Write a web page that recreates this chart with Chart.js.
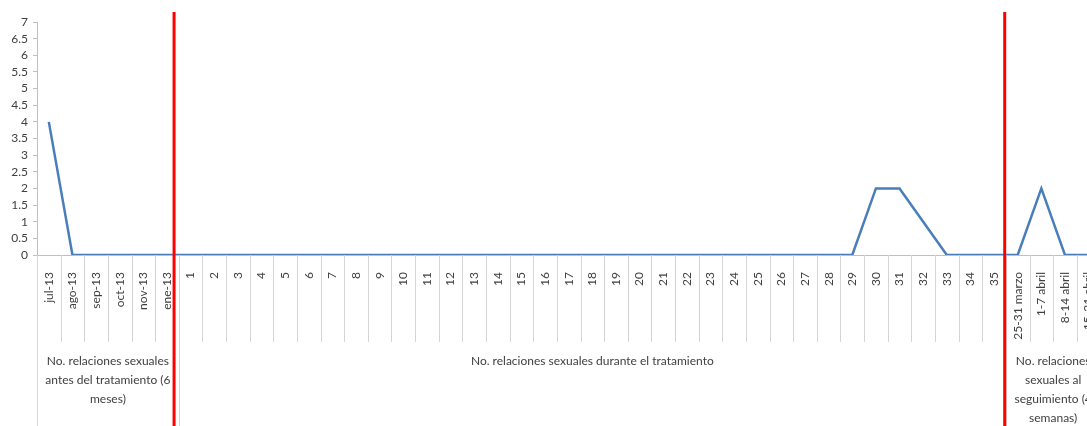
<!DOCTYPE html>
<html>
<head>
<meta charset="utf-8">
<script src="https://cdn.jsdelivr.net/npm/chart.js@4/dist/chart.umd.min.js"></script>
<style>
  html, body { margin: 0; padding: 0; background: #fff; overflow: hidden; width: 1087px; height: 426px; }
  #wrap { width: 1112px; height: 426px; }
</style>
</head>
<body>
<div id="wrap"><canvas id="c" width="1112" height="426"></canvas></div>
<script>
// ---- data ----
const catsBefore = ['jul-13','ago-13','sep-13','oct-13','nov-13','ene-13'];
const catsDuring = ['1','2','3','4','5','6','7','8','9','10','11','12','13','14','15','16','17','18','19','20','21','22','23','24','25','26','27','28','29','30','31','32','33','34','35'];
const catsAfter = ['25-31 marzo','1-7 abril','8-14 abril','15-21 abril'];

const valsBefore = [4,0,0,0,0,0];
const valsDuring = [0,0,0,0,0,0,0,0,0,0,0,0,0,0,0,0,0,0,0,0,0,0,0,0,0,0,0,0,0,2,2,1,0,0,0];
const valsAfter = [0,2,0,0];

const groupLabels = [
  ['No. relaciones sexuales','antes del tratamiento (6','meses)'],
  ['No. relaciones sexuales durante el tratamiento'],
  ['No. relaciones','sexuales al','seguimiento (4','semanas)']
];
const yTicks = [0,0.5,1,1.5,2,2.5,3,3.5,4,4.5,5,5.5,6,6.5,7];

const labels = [...catsBefore, ...catsDuring, ...catsAfter];
const values = [...valsBefore, ...valsDuring, ...valsAfter];
const groupSizes = [catsBefore.length, catsDuring.length, catsAfter.length];
// red divider positions expressed in category-index units
const dividers = [5.3, 40.45];

const FONT = 'Lato, "Open Sans", sans-serif';
const TXT = '#404040';

const decor = {
  id: 'decor',
  afterDraw(chart) {
    const ctx = chart.ctx;
    const xs = chart.scales.x;
    const top = chart.chartArea.top;
    const base = chart.chartArea.bottom;
    const H = chart.height;
    const px = i => xs.getPixelForValue(i);
    const step = px(1) - px(0);
    const edge = i => px(i) - step / 2; // left boundary of category i
    ctx.save();
    // category separators
    ctx.strokeStyle = '#D4D4D4';
    ctx.lineWidth = 1;
    for (let i = 1; i <= labels.length; i++) {
      const x = Math.round(edge(i)) + 0.5;
      ctx.beginPath(); ctx.moveTo(x, base); ctx.lineTo(x, base + 87); ctx.stroke();
    }
    // group separators and labels
    let start = 0;
    ctx.font = '12px ' + FONT;
    ctx.fillStyle = TXT;
    ctx.textAlign = 'center';
    ctx.textBaseline = 'middle';
    groupSizes.forEach((n, g) => {
      const x0 = edge(start), x1 = edge(start + n);
      ctx.strokeStyle = '#D4D4D4';
      const xl = Math.round(x0) + 0.5;
      ctx.beginPath(); ctx.moveTo(xl, base); ctx.lineTo(xl, H); ctx.stroke();
      const cx = (x0 + x1) / 2;
      groupLabels[g].forEach((line, k) => {
        ctx.fillText(line, cx, base + 106 + k * 19.2);
      });
      start += n;
    });
    // red dividers
    ctx.strokeStyle = '#FF0000';
    ctx.lineWidth = 3;
    dividers.forEach(d => {
      const x = px(d);
      ctx.beginPath(); ctx.moveTo(x, top - 10); ctx.lineTo(x, H); ctx.stroke();
    });
    ctx.restore();
  }
};

new Chart(document.getElementById('c'), {
  type: 'line',
  data: {
    labels,
    datasets: [{
      data: values,
      borderColor: '#4A7EBB',
      borderWidth: 2.5,
      pointRadius: 0,
      tension: 0,
      fill: false
    }]
  },
  options: {
    responsive: false,
    animation: false,
    devicePixelRatio: 1,
    layout: { padding: { top: 22, right: 0, bottom: 0, left: 0 } },
    plugins: { legend: { display: false }, tooltip: { enabled: false } },
    scales: {
      x: {
        type: 'category',
        offset: true,
        grid: { display: false, offset: true },
        border: { display: true, color: '#BFBFBF', width: 1 },
        ticks: {
          autoSkip: false,
          minRotation: 90,
          maxRotation: 90,
          padding: 9,
          color: TXT,
          font: { family: FONT, size: 12 }
        },
        afterFit(s) { s.height = 171; }
      },
      y: {
        min: 0,
        max: 7,
        afterBuildTicks(s) { s.ticks = yTicks.map(v => ({ value: v })); },
        grid: { drawOnChartArea: false, drawTicks: true, tickLength: 4, color: '#BFBFBF' },
        border: { display: true, color: '#BFBFBF', width: 1 },
        ticks: {
          autoSkip: false,
          padding: 5,
          color: TXT,
          font: { family: FONT, size: 12 },
          callback: v => String(v)
        },
        afterFit(s) { s.width = 37; }
      }
    }
  },
  plugins: [decor]
});
</script>
</body>
</html>
